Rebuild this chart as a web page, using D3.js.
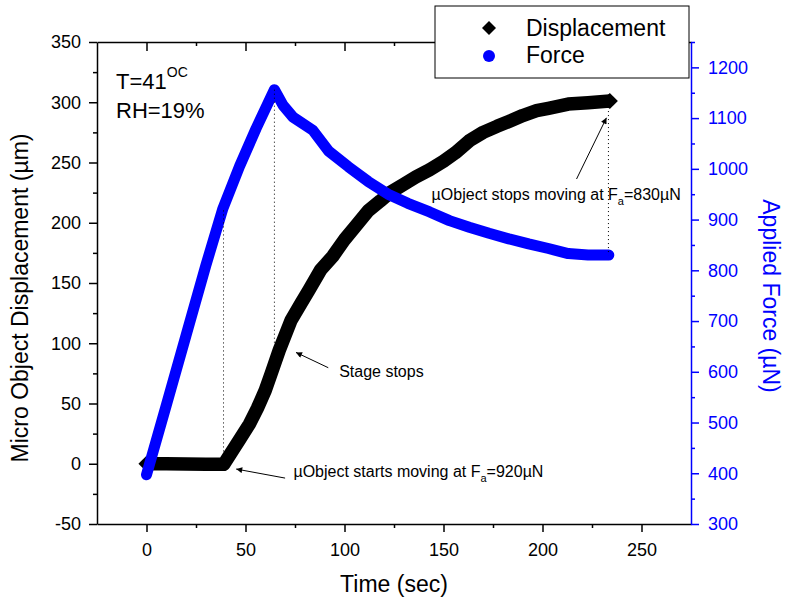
<!DOCTYPE html>
<html>
<head>
<meta charset="utf-8">
<script src="https://cdn.jsdelivr.net/npm/d3@7"></script>
<style>
  body { margin: 0; background: #fff; }
  text { font-family: Arial, "Liberation Sans", sans-serif; }
</style>
</head>
<body>
<div id="chart"></div>
<script>
// displacement curve (sec, µm)
var dispTime = [0, 10, 20, 30, 39, 47, 52, 56, 60, 63, 67, 73, 78, 82, 88, 94, 100, 106, 112, 118, 123, 130, 136, 143, 150, 156, 163, 170, 177, 183, 190, 197, 203, 213, 223, 234];
var dispVal = [0, 0, -0.3, -0.5, -0.5, 20, 33, 46, 61, 75, 94, 119, 133, 144, 161, 172, 186, 198, 210, 218, 225, 232, 238, 244, 251, 258, 268, 275, 280, 284, 289, 293, 295, 298.5, 299.6, 301];

// applied force curve (sec, µN)
var forceTime = [0, 10, 20, 30, 38.6, 47, 55.4, 64.6, 69, 74, 84, 92, 102, 112, 122, 132, 143, 153, 163, 173, 183, 193, 203, 213, 223, 233.5];
var forceVal = [397, 534, 672, 810, 922, 1005, 1080, 1156, 1125, 1102, 1076, 1035, 1004, 975, 950, 932, 915, 898, 885, 873, 862, 852, 843, 833, 830, 830];

var xTicks = [0, 50, 100, 150, 200, 250];
var xMinor = [25, 75, 125, 175, 225];
var yLeftTicks = [-50, 0, 50, 100, 150, 200, 250, 300, 350];
var yLeftMinor = [-25, 25, 75, 125, 175, 225, 275, 325];
var yRightTicks = [300, 400, 500, 600, 700, 800, 900, 1000, 1100, 1200];
var yRightMinor = [350, 450, 550, 650, 750, 850, 950, 1050, 1150, 1250];

var width = 785, height = 603;
var plotLeft = 97, plotRight = 691, plotTop = 42, plotBottom = 524;
var blue = '#0000ff';
var plain = function (d) { return String(d); };

var x = d3.scaleLinear().domain([-25, 275]).range([plotLeft, plotRight]);
var yL = d3.scaleLinear().domain([-50, 350]).range([plotBottom, plotTop]);
var yR = d3.scaleLinear().domain([300, 1250]).range([plotBottom, plotTop]);

var svg = d3.select('#chart').append('svg')
    .attr('width', width)
    .attr('height', height);

function styleAxis(g, color, fs) {
    g.selectAll('path.domain').attr('stroke', color).attr('stroke-width', 1.5);
    g.selectAll('line').attr('stroke', color).attr('stroke-width', 1.5);
    g.selectAll('text').attr('fill', color).style('font-size', fs + 'px')
        .style('font-family', 'Arial, "Liberation Sans", sans-serif');
}

// bottom axis
var gx = svg.append('g').attr('transform', 'translate(0,' + plotBottom + ')')
    .call(d3.axisBottom(x).tickValues(xTicks).tickFormat(plain).tickSize(8).tickSizeOuter(0).tickPadding(11));
styleAxis(gx, '#000', 18);
var gxm = svg.append('g').attr('transform', 'translate(0,' + plotBottom + ')')
    .call(d3.axisBottom(x).tickValues(xMinor).tickSize(4).tickFormat(''));
gxm.select('.domain').remove();
styleAxis(gxm, '#000', 18);

// top axis, ticks pointing in
var gt = svg.append('g').attr('transform', 'translate(0,' + plotTop + ')')
    .call(d3.axisTop(x).tickValues(xTicks).tickSize(-9).tickSizeOuter(0).tickFormat(''));
styleAxis(gt, '#000', 18);
var gtm = svg.append('g').attr('transform', 'translate(0,' + plotTop + ')')
    .call(d3.axisTop(x).tickValues(xMinor).tickSize(-4).tickFormat(''));
gtm.select('.domain').remove();
styleAxis(gtm, '#000', 18);

// left axis
var gl = svg.append('g').attr('transform', 'translate(' + plotLeft + ',0)')
    .call(d3.axisLeft(yL).tickValues(yLeftTicks).tickFormat(plain).tickSize(8).tickSizeOuter(0).tickPadding(8));
styleAxis(gl, '#000', 18);
var glm = svg.append('g').attr('transform', 'translate(' + plotLeft + ',0)')
    .call(d3.axisLeft(yL).tickValues(yLeftMinor).tickSize(4).tickFormat(''));
glm.select('.domain').remove();
styleAxis(glm, '#000', 18);

// right axis (force)
var gr = svg.append('g').attr('transform', 'translate(' + plotRight + ',0)')
    .call(d3.axisRight(yR).tickValues(yRightTicks).tickFormat(plain).tickSize(8).tickSizeOuter(0).tickPadding(9));
styleAxis(gr, blue, 18);
var grm = svg.append('g').attr('transform', 'translate(' + plotRight + ',0)')
    .call(d3.axisRight(yR).tickValues(yRightMinor).tickSize(4).tickFormat(''));
grm.select('.domain').remove();
styleAxis(grm, blue, 18);

// axis titles
svg.append('text').attr('x', 394).attr('y', 592)
    .attr('text-anchor', 'middle').style('font-size', '23px').text('Time (sec)');
svg.append('text').attr('transform', 'translate(28,298) rotate(-90)')
    .attr('text-anchor', 'middle').style('font-size', '23px').text('Micro Object Displacement (µm)');
svg.append('text').attr('transform', 'translate(763,296) rotate(90)')
    .attr('text-anchor', 'middle').attr('fill', blue).style('font-size', '23px').text('Applied Force (µN)');

// curves
var dispData = dispTime.map(function (t, i) { return [t, dispVal[i]]; });
var forceData = forceTime.map(function (t, i) { return [t, forceVal[i]]; });

var dispLine = d3.line()
    .x(function (d) { return x(d[0]); })
    .y(function (d) { return yL(d[1]); });
var forceLine = d3.line()
    .x(function (d) { return x(d[0]); })
    .y(function (d) { return yR(d[1]); });

svg.append('path').datum(dispData)
    .attr('d', dispLine)
    .attr('fill', 'none')
    .attr('stroke', '#000')
    .attr('stroke-width', 13.5)
    .attr('stroke-linejoin', 'round');

var diamond = d3.symbol().type(d3.symbolSquare).size(130);
svg.selectAll('.dend')
    .data([dispData[0], dispData[dispData.length - 1]])
    .enter().append('path')
    .attr('class', 'dend')
    .attr('d', diamond)
    .attr('transform', function (d) { return 'translate(' + x(d[0]) + ',' + yL(d[1]) + ') rotate(45)'; })
    .attr('fill', '#000');

svg.append('path').datum(forceData)
    .attr('d', forceLine)
    .attr('fill', 'none')
    .attr('stroke', blue)
    .attr('stroke-width', 11)
    .attr('stroke-linejoin', 'round')
    .attr('stroke-linecap', 'round');

// dotted guide lines between the two curves
var guides = [
    { t: 38.9, y1: yR(918), y2: yL(3) },
    { t: 64.6, y1: yR(1156), y2: yL(94) },
    { t: 233.3, y1: yL(296), y2: yR(830) }
];
svg.selectAll('.guide')
    .data(guides)
    .enter().append('line')
    .attr('class', 'guide')
    .attr('x1', function (d) { return x(d.t); })
    .attr('x2', function (d) { return x(d.t); })
    .attr('y1', function (d) { return d.y1; })
    .attr('y2', function (d) { return d.y2; })
    .attr('stroke', '#000')
    .attr('stroke-width', 1)
    .attr('stroke-dasharray', '1,3');

// arrowhead
svg.append('defs').append('marker')
    .attr('id', 'arrow')
    .attr('viewBox', '0 0 10 10')
    .attr('refX', 10).attr('refY', 5)
    .attr('markerWidth', 9).attr('markerHeight', 6)
    .attr('markerUnits', 'userSpaceOnUse')
    .attr('orient', 'auto')
    .append('path').attr('d', 'M0,0L10,5L0,10Z').attr('fill', '#000');

var arrows = [
    { t1: 91.8, d1: 79.7, t2: 75.5, d2: 92.4 },
    { t1: 70, d1: -11.9, t2: 45.3, d2: -4.4 },
    { t1: 217.2, d1: 236.3, t2: 232.3, d2: 287.1 }
];
svg.selectAll('.arr')
    .data(arrows)
    .enter().append('line')
    .attr('class', 'arr')
    .attr('x1', function (d) { return x(d.t1); })
    .attr('y1', function (d) { return yL(d.d1); })
    .attr('x2', function (d) { return x(d.t2); })
    .attr('y2', function (d) { return yL(d.d2); })
    .attr('stroke', '#000')
    .attr('stroke-width', 1)
    .attr('marker-end', 'url(#arrow)');

// annotations
svg.append('text').attr('x', x(97.3)).attr('y', yL(72))
    .style('font-size', '16px').text('Stage stops');

function fLabel(tx, dy, before, after) {
    var t = svg.append('text').attr('x', x(tx)).attr('y', yL(dy)).style('font-size', '16px');
    t.append('tspan').text(before + 'F');
    t.append('tspan').attr('dy', 5).style('font-size', '11px').text('a');
    t.append('tspan').attr('dy', -5).text(after);
}
fLabel(74.2, -11, 'µObject starts moving at ', '=920µN');
fLabel(144, 218.8, 'µObject stops moving at ', '=830µN');

// conditions
var cond = svg.append('text').attr('x', 116).attr('y', 89).style('font-size', '22px');
cond.append('tspan').text('T=41');
cond.append('tspan').attr('dy', -12).style('font-size', '14px').text('OC');
svg.append('text').attr('x', 116).attr('y', 118).style('font-size', '22px').text('RH=19%');

// legend
var lg = svg.append('g');
lg.append('rect').attr('x', 435).attr('y', 6).attr('width', 254).attr('height', 72)
    .attr('fill', '#fff').attr('stroke', '#000').attr('stroke-width', 1);
lg.append('path').attr('d', d3.symbol().type(d3.symbolSquare).size(98))
    .attr('transform', 'translate(489,28) rotate(45)').attr('fill', '#000');
lg.append('circle').attr('cx', 489).attr('cy', 56).attr('r', 6).attr('fill', blue);
lg.append('text').attr('x', 526).attr('y', 36).style('font-size', '23px').text('Displacement');
lg.append('text').attr('x', 526).attr('y', 63).style('font-size', '23px').text('Force');
</script>
</body>
</html>
